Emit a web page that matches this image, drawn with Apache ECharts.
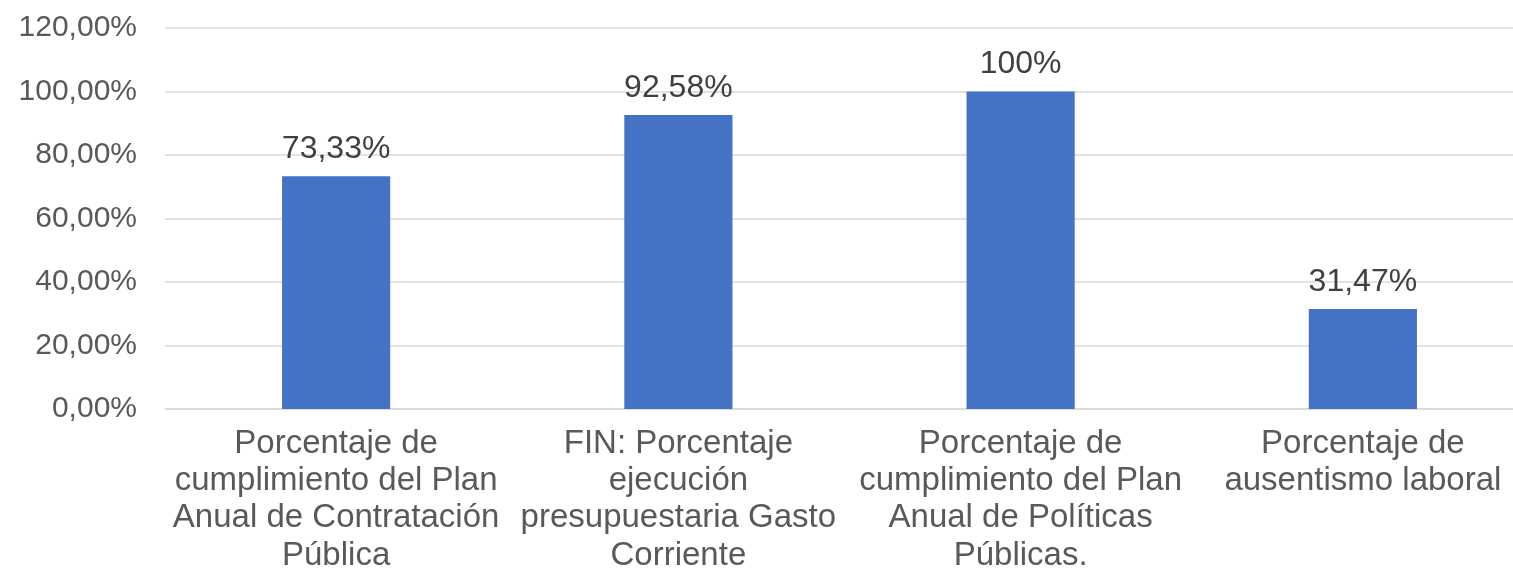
<!DOCTYPE html>
<html><head><meta charset="utf-8">
<script src="https://cdn.jsdelivr.net/npm/echarts@6/dist/echarts.min.js"></script>
<style>html,body{margin:0;padding:0;background:#fff}#c{width:1513px;height:569px}</style>
</head><body><div id="c"></div>
<script>
const categories = [
  "Porcentaje de\ncumplimiento del Plan\nAnual de Contratación\nPública",
  "FIN: Porcentaje\nejecución\npresupuestaria Gasto\nCorriente",
  "Porcentaje de\ncumplimiento del Plan\nAnual de Políticas\nPúblicas.",
  "Porcentaje de\nausentismo laboral"
];
const values = [73.33, 92.58, 100, 31.47];
const valueLabels = ["73,33%", "92,58%", "100%", "31,47%"];
const yTicks = [0, 20, 40, 60, 80, 100, 120];

const chart = echarts.init(document.getElementById('c'), null, {renderer:'canvas'});
chart.setOption({
  animation: false,
  grid: {left: 165, right: -21, top: 28, bottom: 160, outerBoundsMode: 'none', containLabel: false},
  xAxis: {
    type: 'category', data: categories,
    axisLine: {show: true, lineStyle: {color: '#d9d9d9', width: 1.5}},
    axisTick: {show: false},
    axisLabel: {interval: 0, color: '#595959', fontFamily: 'Liberation Sans', fontSize: 33, lineHeight: 37.3, margin: 16}
  },
  yAxis: {
    type: 'value', min: 0, max: 120, interval: 20,
    axisLine: {show: false}, axisTick: {show: false},
    splitLine: {lineStyle: {color: '#d9d9d9', width: 1.5}},
    axisLabel: {color: '#595959', fontFamily: 'Liberation Sans', fontSize: 30, margin: 28,
      formatter: v => yTicks.includes(v) ? v.toFixed(2).replace('.', ',') + '%' : ''}
  },
  series: [{
    type: 'bar', data: values, barWidth: '31.6%',
    itemStyle: {color: '#4472C4'},
    label: {show: true, position: 'top', distance: 11, color: '#404040', fontFamily: 'Liberation Sans', fontSize: 32,
      formatter: p => valueLabels[p.dataIndex]}
  }]
});
</script></body></html>
